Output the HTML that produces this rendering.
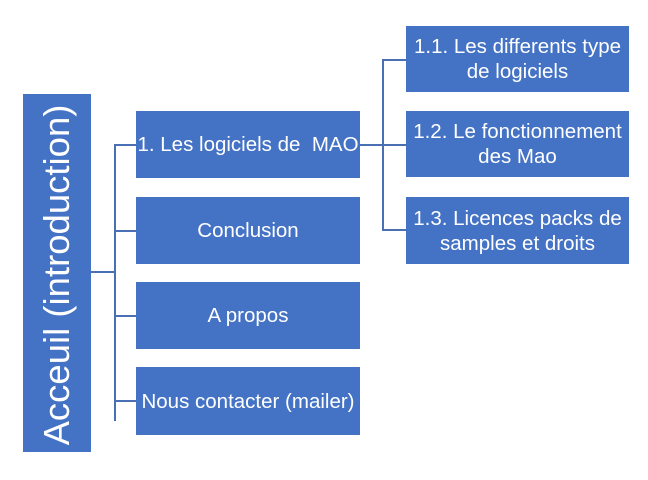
<!DOCTYPE html>
<html><head><meta charset="utf-8"><style>
body{margin:0;width:648px;height:480px;background:#fff;position:relative;overflow:hidden;font-family:"Liberation Sans",sans-serif;}
.b{position:absolute;background:#4472c4;color:#fff;display:flex;align-items:center;justify-content:center;text-align:center;font-size:20.5px;line-height:25px;white-space:nowrap;}
.l{position:absolute;background:#4a6fb3;}
.r{position:absolute;left:23px;top:94px;width:68px;height:358px;background:#4472c4;}
.r span{position:absolute;left:34px;top:181px;transform:translate(-50%,-50%) rotate(-90deg);color:#fff;font-size:36.5px;white-space:nowrap;}
</style></head><body>
<div class="r"><span>Acceuil (introduction)</span></div>
<div class="l" style="left:91px;top:271px;width:24px;height:2px"></div>
<div class="l" style="left:114px;top:144px;width:2px;height:277px"></div>
<div class="l" style="left:114px;top:144px;width:22px;height:1.5px"></div>
<div class="l" style="left:114px;top:230px;width:22px;height:1.5px"></div>
<div class="l" style="left:114px;top:315px;width:22px;height:1.5px"></div>
<div class="l" style="left:114px;top:400px;width:22px;height:1.5px"></div>
<div class="b" style="left:136px;top:111px;width:224px;height:67px">1. Les logiciels de&nbsp; MAO</div>
<div class="b" style="left:136px;top:197px;width:224px;height:67px">Conclusion</div>
<div class="b" style="left:136px;top:282px;width:224px;height:67px">A propos</div>
<div class="b" style="left:136px;top:367px;width:224px;height:68px">Nous contacter (mailer)</div>
<div class="l" style="left:360px;top:144px;width:24px;height:1.5px"></div>
<div class="l" style="left:382px;top:59px;width:2px;height:171px"></div>
<div class="l" style="left:382px;top:59px;width:24px;height:1.5px"></div>
<div class="l" style="left:382px;top:144px;width:24px;height:1.5px"></div>
<div class="l" style="left:382px;top:229px;width:24px;height:1.5px"></div>
<div class="b" style="left:406px;top:26px;width:223px;height:66px">1.1. Les differents type<br>de logiciels</div>
<div class="b" style="left:406px;top:111px;width:223px;height:66px">1.2. Le fonctionnement<br>des Mao</div>
<div class="b" style="left:406px;top:197px;width:223px;height:67px">1.3. Licences packs de<br>samples et droits</div>
</body></html>
